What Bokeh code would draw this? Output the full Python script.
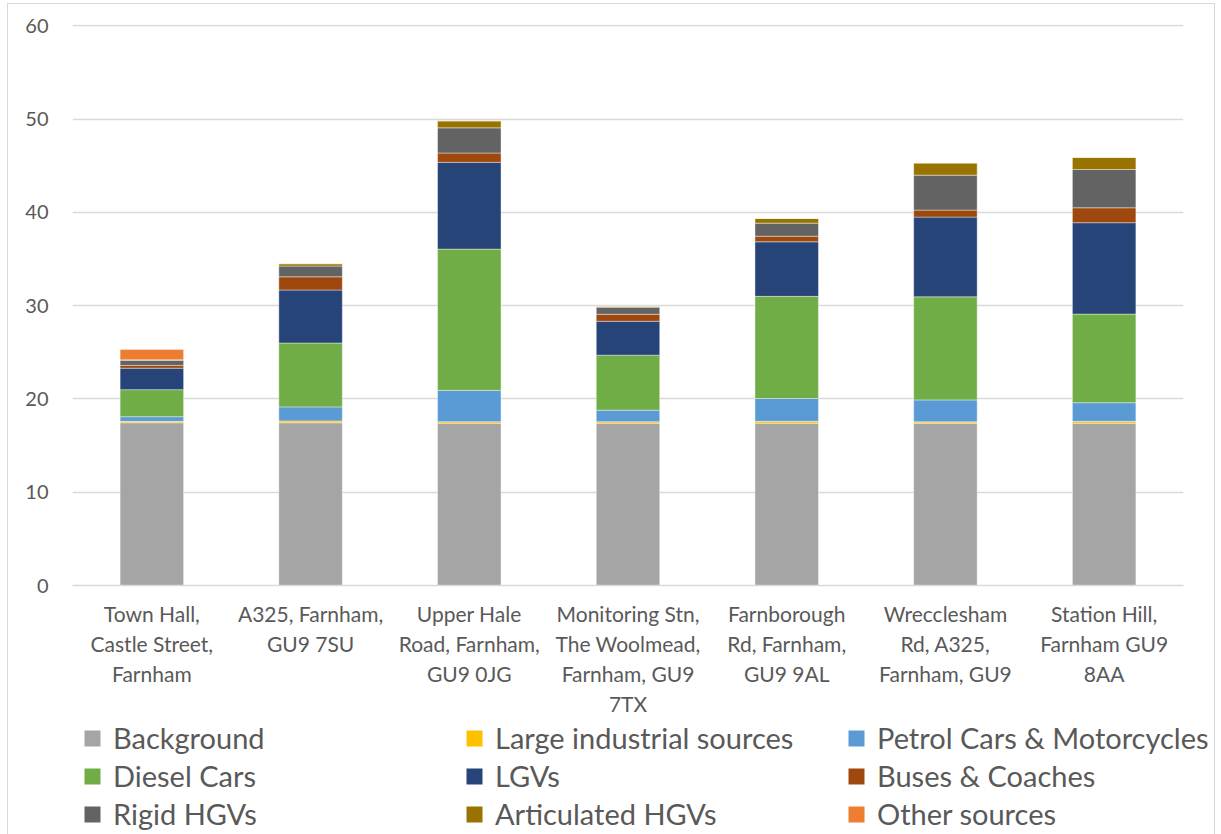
from bokeh.plotting import figure
from bokeh.models import (ColumnDataSource, FactorRange, FixedTicker, Legend,
                          LegendItem, InlineStyleSheet)
from bokeh.layouts import column
from bokeh.embed import file_html
from bokeh.resources import INLINE

sites = [
    "Town Hall,\nCastle Street,\nFarnham",
    "A325, Farnham,\nGU9 7SU",
    "Upper Hale\nRoad, Farnham,\nGU9 0JG",
    "Monitoring Stn,\nThe Woolmead,\nFarnham, GU9\n7TX",
    "Farnborough\nRd, Farnham,\nGU9 9AL",
    "Wrecclesham\nRd, A325,\nFarnham, GU9",
    "Station Hill,\nFarnham GU9\n8AA",
]

series_names = [
    "Background", "Large industrial sources", "Petrol Cars & Motorcycles",
    "Diesel Cars", "LGVs", "Buses & Coaches",
    "Rigid HGVs", "Articulated HGVs", "Other sources",
]

background = [17.45, 17.45, 17.4, 17.4, 17.4, 17.4, 17.4]
large_industrial = [0.15, 0.2, 0.17, 0.17, 0.2, 0.15, 0.2]
petrol_cars = [0.5, 1.5, 3.35, 1.23, 2.45, 2.35, 2.0]
diesel_cars = [2.9, 6.85, 15.15, 5.9, 10.95, 11.05, 9.5]
lgvs = [2.3, 5.68, 9.3, 3.63, 5.85, 8.55, 9.8]
buses = [0.3, 1.42, 1.0, 0.75, 0.6, 0.75, 1.6]
rigid_hgvs = [0.55, 1.15, 2.7, 0.75, 1.4, 3.75, 4.1]
artic_hgvs = [0.05, 0.25, 0.75, 0.1, 0.5, 1.3, 1.3]
other_sources = [1.1, 0, 0, 0, 0, 0, 0]

colors = ["#A5A5A5", "#FFC000", "#5B9BD5", "#70AD47", "#264478",
          "#9E480E", "#636363", "#997300", "#ED7D31"]

keys = ["bg", "li", "pc", "dc", "lgv", "bus", "rigid", "artic", "other"]
data = dict(x=sites)
for k, vals in zip(keys, [background, large_industrial, petrol_cars, diesel_cars,
                          lgvs, buses, rigid_hgvs, artic_hgvs, other_sources]):
    data[k] = vals
source = ColumnDataSource(data)

FONT = "Lato"
TXT = "#595959"

# ---- main chart ----
p = figure(x_range=FactorRange(*sites), y_range=(0, 60.15),
           frame_width=1111, frame_height=561,
           output_backend="svg", toolbar_location=None,
           min_border_left=72, min_border_right=30, min_border_top=24,
           min_border_bottom=135)
p.outline_line_color = None

p.vbar_stack(keys, x="x", width=0.4, color=colors, source=source,
             line_color="white", line_alpha=0.4, line_width=1)

p.yaxis.ticker = FixedTicker(ticks=[0, 10, 20, 30, 40, 50, 60])
p.yaxis.axis_line_color = None
p.yaxis.major_tick_line_color = None
p.yaxis.minor_tick_line_color = None
p.yaxis.major_tick_out = 0
p.yaxis.major_label_standoff = 24
p.yaxis.major_label_text_font = FONT
p.yaxis.major_label_text_font_size = "20px"
p.yaxis.major_label_text_color = TXT

p.xaxis.axis_line_color = "#D9D9D9"
p.xaxis.axis_line_width = 1.5
p.xaxis.major_tick_line_color = None
p.xaxis.major_tick_out = 0
p.xaxis.major_label_standoff = 15
p.xaxis.major_label_text_font = FONT
p.xaxis.major_label_text_font_size = "21px"
p.xaxis.major_label_text_color = TXT
p.xaxis.major_label_text_line_height = 1.2

p.xgrid.grid_line_color = None
p.ygrid.grid_line_color = "#D9D9D9"
p.ygrid.grid_line_width = 1.5

# ---- legend panel (swatches only; zero-size marks) ----
LEG_H = 114
lf = figure(frame_width=1221, frame_height=LEG_H, output_backend="svg",
            toolbar_location=None, x_axis_location=None, y_axis_location=None,
            min_border=0, min_border_left=0, min_border_right=0,
            min_border_top=0, min_border_bottom=0,
            x_range=(0, 1), y_range=(0, 1))
lf.outline_line_color = None
lf.xgrid.visible = False
lf.ygrid.visible = False

items = []
for name, c in zip(series_names, colors):
    r = lf.vbar(x=[-10], top=[-10], bottom=[-10], width=0, fill_color=c,
                line_color=None)
    items.append(LegendItem(label=name, renderers=[r]))

lg = Legend(items=items, orientation="horizontal", ncols=3,
            location=(82, 3))
lg.border_line_color = None
lg.background_fill_alpha = 0
lg.padding = 0
lg.margin = 0
lg.spacing = 3
lg.glyph_width = 20
lg.glyph_height = 20
lg.label_standoff = 11
lg.label_width = 348
lg.label_text_font = FONT
lg.label_text_font_size = "29px"
lg.label_text_color = TXT
lf.add_layout(lg, "center")

frame_css = InlineStyleSheet(css="""
:host { position: relative; }
:host::after {
  content: ""; position: absolute; left: 7px; top: 3px;
  width: 1208px; height: 831px; box-sizing: border-box;
  border: 1.5px solid #D9D9D9; border-bottom: none; pointer-events: none;
}
""")

layout = column(p, lf, spacing=0, stylesheets=[frame_css])
open("out.html", "w").write(file_html(layout, INLINE))
